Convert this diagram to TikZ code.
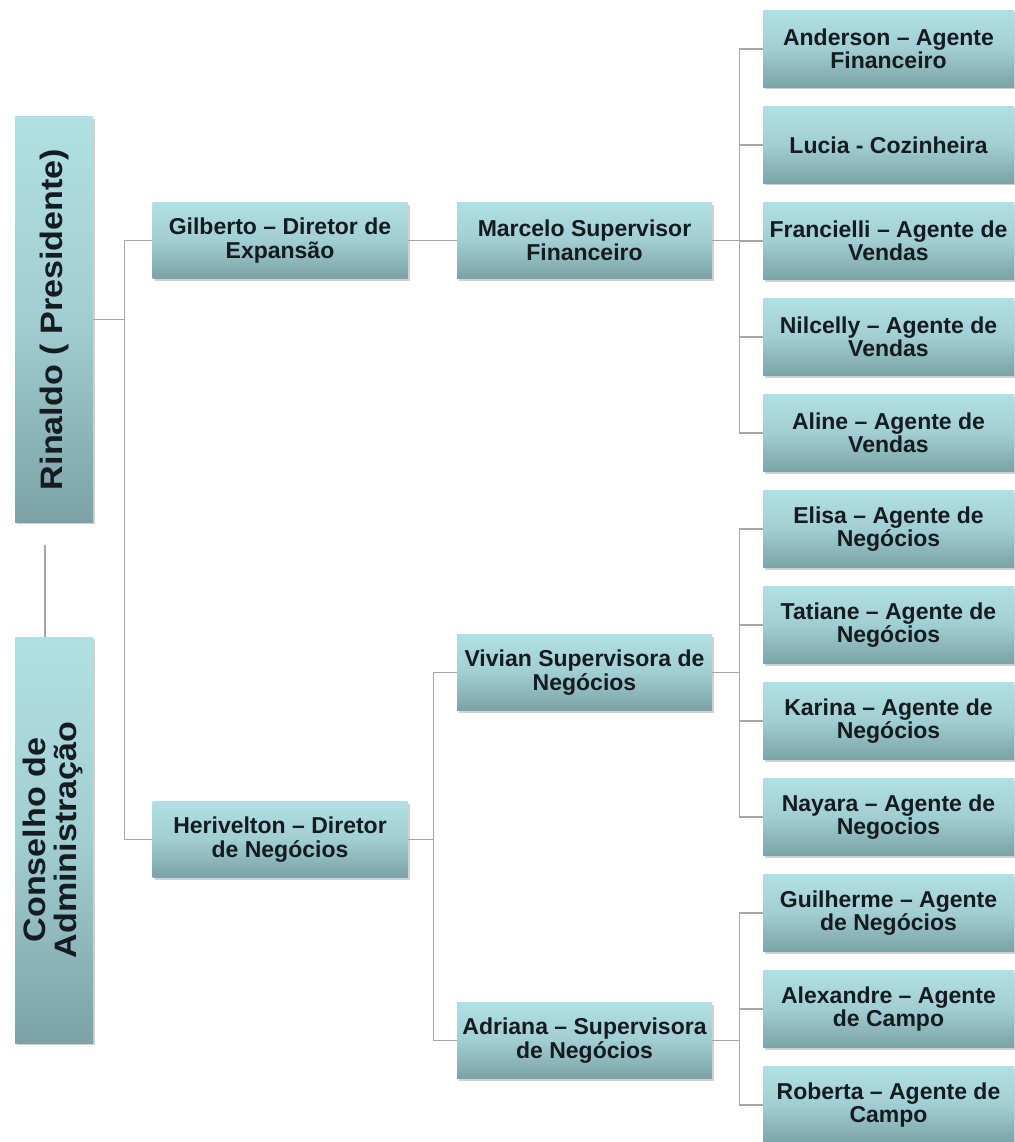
\documentclass[tikz,border=0pt]{standalone}
\usepackage{fontspec}
\setmainfont{Liberation Sans}
\newfontfamily\sidefont[FakeStretch=1.1]{Liberation Sans}
\usepackage{tikz}
\usetikzlibrary{shadows}
\definecolor{BoxTop}{RGB}{176,223,228}
\definecolor{BoxMid}{RGB}{160,206,211}
\definecolor{BoxBot}{RGB}{124,162,166}
\definecolor{Ink}{RGB}{20,28,32}
\definecolor{Wire}{RGB}{165,165,165}
\tikzset{
  card/.style={rectangle, inner sep=0pt, align=center, text=Ink,
    top color=BoxTop, bottom color=BoxBot, middle color=BoxMid,
    font=\bfseries\fontsize{23}{23.5}\selectfont,
    drop shadow={shadow xshift=2pt, shadow yshift=-2pt, opacity=0.3, fill=black!60}},
  mid/.style={card, minimum width=255, minimum height=76},
  leaf/.style={card, minimum width=251, minimum height=77},
  side/.style={card, minimum width=78},
  link/.style={draw=Wire, line width=1.2pt},
}
\newcommand{\SideText}{\bfseries\sidefont\fontsize{31}{30}\selectfont}

\begin{document}
\begin{tikzpicture}[x=1pt,y=-1pt]
\useasboundingbox (0,0) rectangle (1014,1142);
% left column
\node[side, minimum height=405] (rinaldo) at (54,319.5)
  {\rotatebox{90}{\SideText Rinaldo ( Presidente)}};
\node[side, minimum height=406] (conselho) at (54,840)
  {\rotatebox{90}{\SideText\begin{tabular}{@{}c@{}}Conselho de\\Administração\end{tabular}}};
\coordinate (gap) at (45,545);
\draw[link] (gap) -- (gap |- conselho.north);
% directors and supervisors
\node[mid] (gilberto) at (280,240.5) {Gilberto – Diretor de\\Expansão};
\node[mid] (herivelton) at (280,839.5) {Herivelton – Diretor\\de Negócios};
\node[mid] (marcelo) at (584.5,240.5) {Marcelo Supervisor\\Financeiro};
\node[mid] (vivian) at (584.5,672.5) {Vivian Supervisora de\\Negócios};
\node[mid] (adriana) at (584.5,1040.5) {Adriana – Supervisora\\de Negócios};
% agents, one every 96
\foreach \name/\txt [count=\i from 0] in {
    anderson/{Anderson – Agente\\Financeiro},
    lucia/{Lucia - Cozinheira},
    francielli/{Francielli – Agente de\\Vendas},
    nilcelly/{Nilcelly – Agente de\\Vendas},
    aline/{Aline – Agente de\\Vendas},
    elisa/{Elisa – Agente de\\Negócios},
    tatiane/{Tatiane – Agente de\\Negócios},
    karina/{Karina – Agente de\\Negócios},
    nayara/{Nayara – Agente de\\Negocios},
    guilherme/{Guilherme – Agente\\de Negócios},
    alexandre/{Alexandre – Agente\\de Campo},
    roberta/{Roberta – Agente de\\Campo}}
  \node[leaf] (\name) at (888.5,{49+96*\i}) {\txt};
% links
\draw[link] (rinaldo.east) -- ++(31,0) coordinate (pbus);
\draw[link] (gilberto.west) -| (pbus) |- (herivelton.west);
\draw[link] (gilberto) -- (marcelo);
\draw[link] (herivelton.east) -- ++(26,0) coordinate (hbus);
\draw[link] (vivian.west) -| (hbus) |- (adriana.west);
\draw[link] (marcelo.east) -- ++(27,0) coordinate (mbus);
\foreach \name in {anderson,lucia,francielli,nilcelly,aline}
  \draw[link] (mbus) |- (\name.west);
\draw[link] (vivian.east) -- ++(27,0) coordinate (vbus);
\foreach \name in {elisa,tatiane,karina,nayara}
  \draw[link] (vbus) |- (\name.west);
\draw[link] (adriana.east) -- ++(27,0) coordinate (abus);
\foreach \name in {guilherme,alexandre,roberta}
  \draw[link] (abus) |- (\name.west);
\end{tikzpicture}
\end{document}
